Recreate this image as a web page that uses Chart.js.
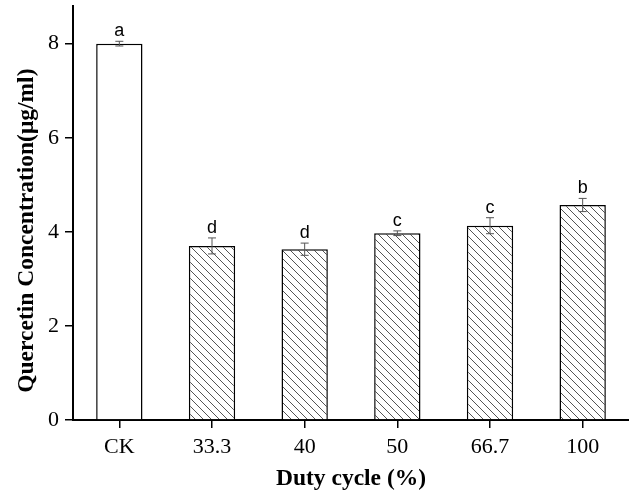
<!DOCTYPE html>
<html>
<head>
<meta charset="utf-8">
<script src="https://cdn.jsdelivr.net/npm/chart.js@4.4.0/dist/chart.umd.min.js"></script>
<style>
    html, body { margin: 0; padding: 0; background: #fff; }
    #wrap { width: 629px; height: 497px; }
</style>
</head>
<body>
<div id="wrap"><canvas id="quercetinChart" width="629" height="497"></canvas></div>
<script>
// values
const dutyCycles = ['CK', '33.3', '40', '50', '66.7', '100'];
const concentration = [8.0, 3.70, 3.63, 3.97, 4.13, 4.57];
const errors = [0.05, 0.17, 0.13, 0.05, 0.17, 0.14];
const letters = ['a', 'd', 'd', 'c', 'c', 'b'];
const yTicks = [0, 2, 4, 6, 8];

// diagonal hatch "\\\" tile
function makeHatch() {
    const s = 8;
    const c = document.createElement('canvas');
    c.width = s; c.height = s;
    const g = c.getContext('2d');
    g.fillStyle = '#fff';
    g.fillRect(0, 0, s, s);
    g.strokeStyle = '#555';
    g.lineWidth = 1;
    g.beginPath();
    g.moveTo(0, 0); g.lineTo(s, s);
    g.moveTo(-1, s - 1); g.lineTo(1, s + 1);
    g.moveTo(s - 1, -1); g.lineTo(s + 1, 1);
    g.stroke();
    return g.createPattern(c, 'repeat');
}
const hatch = makeHatch();

// error bars + significance letters
const errorBarPlugin = {
    id: 'errorBars',
    afterDatasetsDraw(chart) {
        const ctx = chart.ctx;
        const x = chart.scales.x, y = chart.scales.y;
        ctx.save();
        concentration.forEach((v, i) => {
            const px = x.getPixelForValue(i);
            const top = y.getPixelForValue(v + errors[i]);
            const bot = y.getPixelForValue(v - errors[i]);
            ctx.strokeStyle = '#555';
            ctx.lineWidth = 1;
            ctx.beginPath();
            ctx.moveTo(px, top); ctx.lineTo(px, bot);
            ctx.moveTo(px - 4, top); ctx.lineTo(px + 4, top);
            ctx.moveTo(px - 4, bot); ctx.lineTo(px + 4, bot);
            ctx.stroke();
            ctx.fillStyle = '#000';
            ctx.font = '18px "Liberation Sans", Arial, sans-serif';
            ctx.textAlign = 'center';
            ctx.textBaseline = 'alphabetic';
            ctx.fillText(letters[i], px, top - 5);
        });
        ctx.restore();
    }
};

const serif = '"Liberation Serif", "Times New Roman", serif';

new Chart(document.getElementById('quercetinChart'), {
    type: 'bar',
    data: {
        labels: dutyCycles,
        datasets: [{
            data: concentration,
            backgroundColor: concentration.map((v, i) => i === 0 ? '#fff' : hatch),
            borderColor: '#000',
            borderWidth: 1.5,
            barPercentage: 0.5,
            categoryPercentage: 1.0
        }]
    },
    options: {
        responsive: false,
        animation: false,
        layout: { padding: { top: 6, right: 0, left: 0, bottom: 0 } },
        plugins: {
            legend: { display: false },
            tooltip: { enabled: false }
        },
        scales: {
            x: {
                afterFit(scale) { scale.height = 77; },
                grid: { offset: false, drawOnChartArea: false, drawTicks: true, tickLength: 8, color: '#000', lineWidth: 1.5 },
                border: { display: true, color: '#000', width: 2 },
                ticks: { color: '#000', padding: 6, font: { family: serif, size: 22 } },
                title: {
                    display: true,
                    text: 'Duty cycle (%)',
                    color: '#000',
                    padding: { top: 0, bottom: 4 },
                    font: { family: serif, size: 23.5, weight: 'bold' }
                }
            },
            y: {
                min: 0,
                max: 8.8,
                afterFit(scale) {
                    scale.width = 73;
                    scale.paddingTop = 0;
                    scale.paddingBottom = 0;
                },
                afterBuildTicks(scale) { scale.ticks = yTicks.map(v => ({ value: v })); },
                grid: { drawOnChartArea: false, drawTicks: true, tickLength: 8, color: '#000', lineWidth: 1.5 },
                border: { display: true, color: '#000', width: 2 },
                ticks: { color: '#000', padding: 6, font: { family: serif, size: 22 } },
                title: {
                    display: true,
                    // trailing en spaces push the title down a little, as in the original
                    text: 'Quercetin Concentration(μg/ml)\u2002\u2002\u2002',
                    color: '#000',
                    padding: { top: 13, bottom: 0 },
                    font: { family: serif, size: 23.5, weight: 'bold' }
                }
            }
        }
    },
    plugins: [errorBarPlugin]
});
</script>
</body>
</html>
